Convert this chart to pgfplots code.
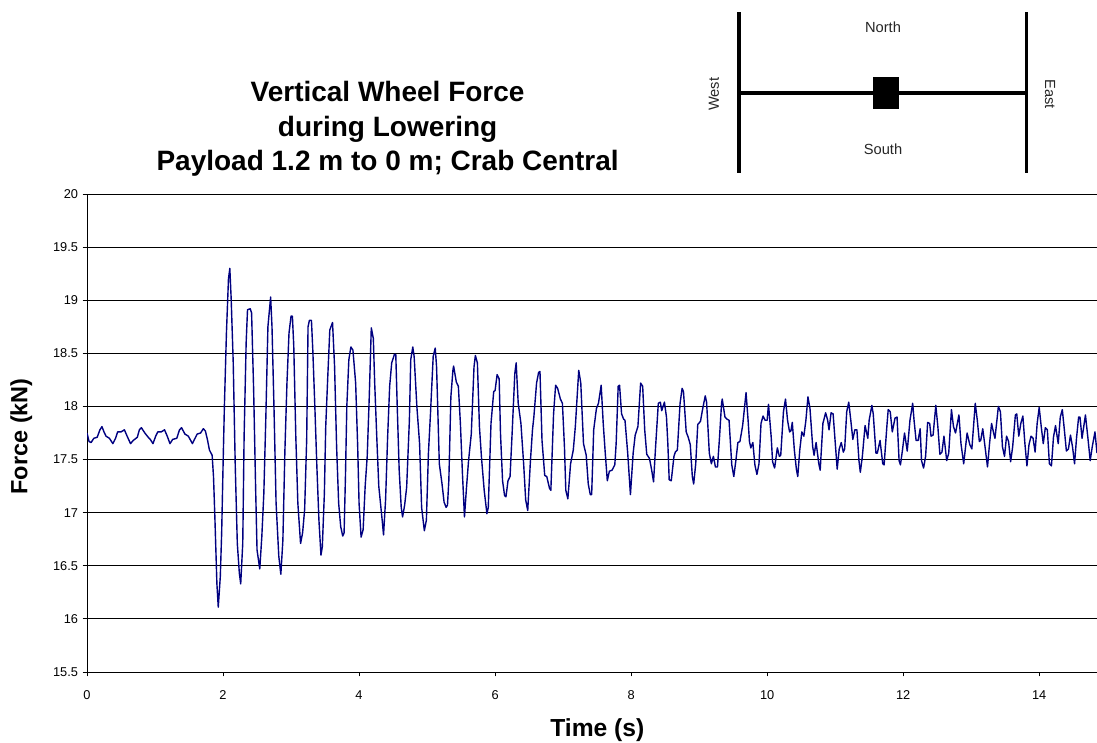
\documentclass[border=0pt]{standalone}
\usepackage{pgfplots}
\pgfplotsset{compat=1.18}
\usepackage{fontspec}
\setmainfont{Liberation Sans}
\definecolor{linenavy}{HTML}{000080}
\begin{document}
\begin{tikzpicture}[x=1pt,y=1pt]
\useasboundingbox (0,0) rectangle (822.75,557.25);
\begin{axis}[
  at={(65.25pt,53.25pt)},anchor=south west,
  scale only axis,width=757.5pt,height=358.5pt,
  xmin=0,xmax=14.85,ymin=15.5,ymax=20,
  axis x line*=bottom,axis y line*=left,
  xtick={0,2,...,14},
  ytick={15.5,16,16.5,17,17.5,18,18.5,19,19.5,20},
  ymajorgrids,
  grid style={black,line width=0.7pt},
  axis line style={black,line width=0.7pt},
  tick style={black,line width=0.7pt},
  tick align=outside,
  major tick length=3.2pt,
  axis on top=false,
  clip=true,
  tick label style={font=\fontsize{9.6}{11}\selectfont},
  /pgf/number format/assume math mode=true,
  yticklabel style={/pgf/number format/fixed},
  xticklabel style={yshift=-7pt},
]
\addplot[color=linenavy,line width=1.05pt,line join=round] table {
0.00 17.75
0.03 17.67
0.06 17.66
0.10 17.70
0.15 17.71
0.19 17.78
0.22 17.81
0.25 17.76
0.28 17.72
0.33 17.70
0.38 17.65
0.42 17.70
0.45 17.76
0.50 17.76
0.55 17.78
0.59 17.72
0.64 17.65
0.68 17.68
0.74 17.71
0.77 17.78
0.80 17.80
0.85 17.75
0.90 17.71
0.93 17.69
0.97 17.65
1.01 17.72
1.04 17.76
1.09 17.76
1.14 17.78
1.18 17.72
1.22 17.65
1.26 17.69
1.32 17.70
1.36 17.78
1.39 17.80
1.44 17.74
1.49 17.72
1.55 17.65
1.58 17.69
1.62 17.74
1.67 17.75
1.71 17.79
1.74 17.77
1.77 17.69
1.80 17.59
1.84 17.54
1.86 17.34
1.88 16.96
1.91 16.33
1.93 16.11
1.96 16.40
1.98 16.81
2.00 17.43
2.02 18.00
2.05 18.69
2.08 19.20
2.10 19.30
2.12 19.01
2.15 18.41
2.18 17.43
2.21 16.71
2.24 16.43
2.26 16.33
2.29 16.71
2.31 17.72
2.34 18.60
2.36 18.91
2.40 18.92
2.42 18.88
2.45 18.16
2.48 17.21
2.50 16.65
2.54 16.47
2.57 16.77
2.60 17.18
2.63 17.91
2.66 18.75
2.70 19.03
2.72 18.75
2.75 17.97
2.78 17.09
2.82 16.59
2.85 16.42
2.88 16.74
2.91 17.59
2.94 18.22
2.97 18.69
3.00 18.85
3.02 18.85
3.04 18.57
3.07 17.72
3.10 17.09
3.14 16.71
3.17 16.81
3.20 17.03
3.23 17.69
3.25 18.75
3.27 18.81
3.30 18.81
3.32 18.53
3.35 18.00
3.38 17.43
3.41 16.93
3.44 16.60
3.46 16.68
3.49 17.18
3.51 17.81
3.54 18.28
3.57 18.72
3.61 18.79
3.64 18.38
3.67 17.62
3.70 17.09
3.73 16.87
3.76 16.78
3.78 16.81
3.80 17.34
3.82 18.00
3.85 18.44
3.88 18.56
3.91 18.53
3.95 18.22
3.98 17.62
4.00 17.09
4.03 16.77
4.06 16.84
4.09 17.25
4.12 17.53
4.15 18.09
4.18 18.74
4.21 18.64
4.23 18.22
4.26 17.72
4.29 17.25
4.34 16.93
4.36 16.79
4.39 17.12
4.42 17.71
4.45 18.19
4.48 18.41
4.52 18.49
4.54 18.49
4.56 18.03
4.59 17.40
4.62 17.05
4.64 16.96
4.67 17.07
4.70 17.24
4.74 17.87
4.76 18.44
4.79 18.56
4.81 18.47
4.85 18.00
4.89 17.65
4.92 17.05
4.96 16.83
4.99 16.93
5.02 17.56
5.05 17.93
5.09 18.47
5.12 18.55
5.14 18.37
5.18 17.46
5.22 17.27
5.25 17.10
5.28 17.05
5.30 17.07
5.32 17.30
5.35 18.09
5.38 18.34
5.39 18.38
5.43 18.23
5.46 18.19
5.49 17.84
5.52 17.37
5.55 16.96
5.58 17.24
5.61 17.49
5.65 17.74
5.69 18.37
5.71 18.48
5.74 18.41
5.77 17.81
5.80 17.52
5.84 17.21
5.88 16.99
5.90 17.05
5.94 17.84
5.98 18.14
6.00 18.15
6.03 18.30
6.06 18.26
6.08 17.74
6.11 17.30
6.14 17.16
6.16 17.15
6.19 17.30
6.22 17.34
6.25 17.74
6.29 18.31
6.31 18.41
6.34 18.03
6.38 17.84
6.42 17.46
6.45 17.12
6.48 17.02
6.52 17.49
6.55 17.78
6.57 17.90
6.61 18.22
6.64 18.32
6.66 18.33
6.69 17.68
6.73 17.35
6.76 17.34
6.80 17.23
6.82 17.21
6.86 17.93
6.89 18.20
6.92 18.17
6.96 18.07
6.99 18.03
7.02 17.62
7.04 17.21
7.07 17.13
7.11 17.46
7.15 17.59
7.18 17.81
7.23 18.34
7.26 18.22
7.30 17.65
7.34 17.54
7.37 17.27
7.40 17.17
7.42 17.17
7.45 17.78
7.49 17.98
7.52 18.03
7.56 18.20
7.59 17.84
7.62 17.56
7.65 17.30
7.68 17.39
7.72 17.40
7.76 17.45
7.78 17.65
7.81 18.19
7.83 18.20
7.86 17.93
7.89 17.88
7.91 17.87
7.95 17.56
7.99 17.17
8.03 17.56
8.06 17.73
8.10 17.81
8.14 18.22
8.17 18.19
8.20 17.78
8.23 17.55
8.27 17.51
8.30 17.41
8.33 17.29
8.36 17.62
8.40 18.03
8.43 18.04
8.45 17.96
8.49 18.04
8.52 17.90
8.54 17.65
8.56 17.31
8.59 17.30
8.63 17.53
8.65 17.57
8.68 17.59
8.72 18.03
8.75 18.17
8.77 18.14
8.81 17.76
8.84 17.71
8.87 17.64
8.90 17.34
8.92 17.27
8.95 17.46
8.98 17.83
9.02 17.86
9.05 17.97
9.09 18.10
9.11 18.04
9.15 17.56
9.18 17.46
9.21 17.53
9.24 17.43
9.27 17.43
9.30 17.71
9.33 18.03
9.34 18.07
9.38 17.90
9.41 17.88
9.44 17.87
9.48 17.45
9.51 17.34
9.54 17.49
9.57 17.66
9.60 17.67
9.64 17.82
9.69 18.13
9.72 17.87
9.74 17.67
9.76 17.61
9.79 17.66
9.82 17.45
9.85 17.36
9.88 17.46
9.91 17.84
9.94 17.91
9.97 17.87
10.00 17.87
10.02 18.02
10.06 17.71
10.08 17.48
10.11 17.42
10.15 17.61
10.18 17.53
10.20 17.54
10.24 17.95
10.27 18.07
10.30 17.87
10.33 17.76
10.35 17.77
10.37 17.85
10.40 17.59
10.43 17.41
10.45 17.34
10.48 17.59
10.51 17.76
10.54 17.72
10.57 17.87
10.60 18.09
10.63 17.98
10.67 17.62
10.69 17.54
10.72 17.66
10.76 17.46
10.78 17.40
10.82 17.84
10.86 17.94
10.89 17.87
10.91 17.78
10.94 17.94
10.97 17.93
11.00 17.67
11.03 17.41
11.06 17.60
11.09 17.66
11.12 17.57
11.14 17.60
11.17 17.95
11.20 18.04
11.23 17.87
11.26 17.69
11.29 17.78
11.32 17.78
11.35 17.49
11.37 17.38
11.40 17.53
11.44 17.82
11.48 17.70
11.50 17.87
11.54 18.01
11.56 17.93
11.60 17.56
11.62 17.56
11.66 17.68
11.70 17.46
11.72 17.45
11.76 17.81
11.78 17.97
11.81 17.95
11.84 17.76
11.88 17.89
11.91 17.90
11.94 17.49
11.96 17.45
11.99 17.59
12.02 17.75
12.06 17.58
12.10 17.87
12.14 18.03
12.16 17.87
12.19 17.68
12.22 17.68
12.25 17.79
12.27 17.49
12.30 17.42
12.33 17.53
12.36 17.85
12.39 17.84
12.41 17.72
12.44 17.73
12.48 18.01
12.51 17.81
12.54 17.55
12.57 17.57
12.60 17.72
12.64 17.49
12.67 17.56
12.71 17.97
12.74 17.81
12.77 17.75
12.82 17.92
12.85 17.65
12.89 17.46
12.94 17.75
12.98 17.64
13.01 17.60
13.06 18.03
13.09 17.87
13.12 17.67
13.14 17.68
13.17 17.79
13.20 17.64
13.24 17.43
13.27 17.65
13.30 17.84
13.33 17.75
13.35 17.70
13.40 18.00
13.43 17.95
13.46 17.62
13.49 17.53
13.52 17.72
13.55 17.67
13.58 17.48
13.61 17.62
13.65 17.92
13.67 17.93
13.70 17.72
13.73 17.84
13.76 17.91
13.79 17.65
13.82 17.44
13.85 17.64
13.88 17.72
13.91 17.70
13.94 17.57
13.97 17.84
14.00 17.99
14.03 17.81
14.06 17.65
14.09 17.80
14.12 17.78
14.15 17.46
14.18 17.44
14.21 17.71
14.24 17.82
14.28 17.65
14.31 17.90
14.34 17.97
14.37 17.78
14.40 17.58
14.43 17.60
14.46 17.73
14.49 17.62
14.52 17.46
14.55 17.71
14.58 17.90
14.60 17.90
14.63 17.70
14.68 17.92
14.72 17.68
14.75 17.49
14.78 17.62
14.82 17.76
14.85 17.56
};
\end{axis}
% title
\node[align=center,font=\fontsize{21}{26}\selectfont\bfseries] at (290.7,460.5) {Vertical Wheel Force\\during Lowering\\Payload 1.2 m to 0 m; Crab Central};
\node[font=\fontsize{18.5}{22}\selectfont\bfseries] at (448,9.5) {Time (s)};
\node[font=\fontsize{17.6}{22}\selectfont\bfseries,rotate=90] at (16,230) {Force (kN)};
% inset sketch of the crane
\draw[black,line width=2.5pt] (554.25,427.5) -- (554.25,548.25);
\draw[black,line width=2.5pt] (770,427.5) -- (770,548.25);
\draw[black,line width=2.5pt] (555,487.5) -- (770,487.5);
\fill[black] (654.75,475.5) rectangle (674.6,499.5);
\node[font=\fontsize{11}{13}\selectfont,text=black!85] at (662.25,536.5) {North};
\node[font=\fontsize{11}{13}\selectfont,text=black!85] at (662.25,445.5) {South};
\node[font=\fontsize{11}{13}\selectfont,text=black!85,rotate=90] at (535.5,486.5) {West};
\node[font=\fontsize{11}{13}\selectfont,text=black!85,rotate=-90] at (787.5,486.5) {East};
\end{tikzpicture}
\end{document}
